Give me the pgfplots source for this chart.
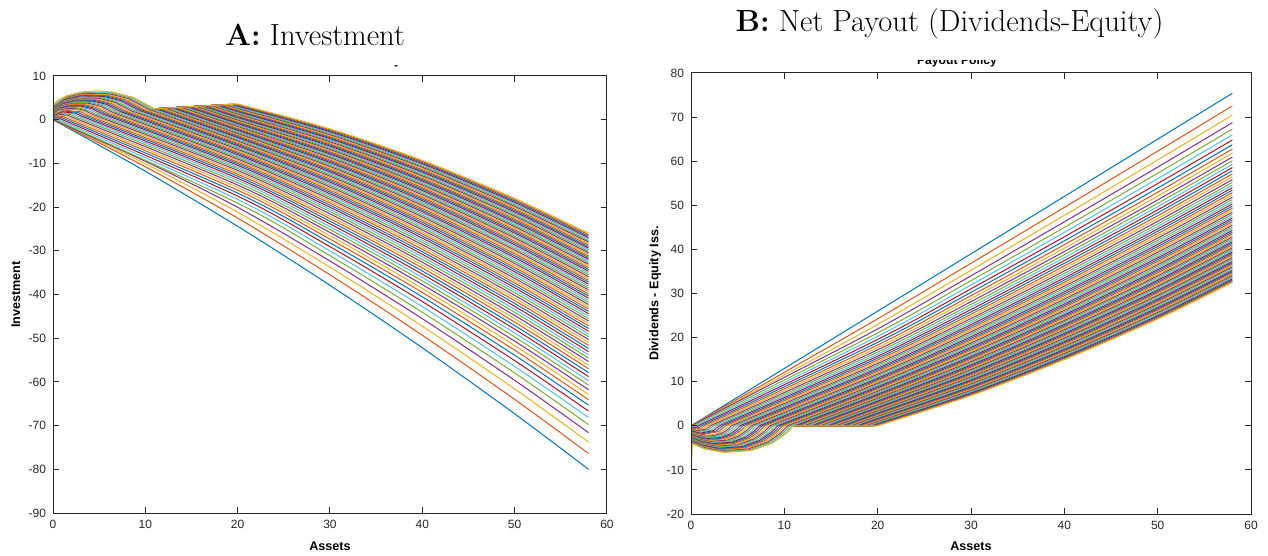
\documentclass[border=0pt]{standalone}
\usepackage{fontspec}
\usepackage{pgfplots}
\pgfplotsset{compat=1.18}
\newfontfamily\arial{Liberation Sans}
\definecolor{c1}{rgb}{0,0.447,0.741}
\definecolor{c2}{rgb}{0.850,0.325,0.098}
\definecolor{c3}{rgb}{0.929,0.694,0.125}
\definecolor{c4}{rgb}{0.494,0.184,0.556}
\definecolor{c5}{rgb}{0.466,0.674,0.188}
\definecolor{c6}{rgb}{0.301,0.745,0.933}
\definecolor{c7}{rgb}{0.635,0.078,0.184}
\tikzset{s/.style={smooth, tension=0.5}}
\pgfplotsset{mstyle/.style={scale only axis, axis on top, xmin=0, xmax=60,
 xtick={0,10,...,60}, xticklabels={0,10,20,30,40,50,60},
 tick align=inside, major tick length=2.8pt,
 axis line style={black!85,line width=0.5pt}, tick style={black!85,line width=0.5pt},
 tick label style={font=\arial\fontsize{6}{7}\selectfont, text=black!85},
 label style={font=\arial\bfseries\fontsize{6.3}{7.5}\selectfont, text=black},
 every axis plot/.append style={line width=0.5pt, mark=none}}}
\begin{document}
\begin{tikzpicture}
\path[use as bounding box] (0,0) rectangle (634pt,-278pt);
\node[font=\fontsize{15.3}{18}\selectfont, anchor=base] at (157.5pt,-22.75pt) {\textbf{A:} Investment};
\node[font=\fontsize{15.3}{18}\selectfont, anchor=base] at (474.75pt,-16pt) {\textbf{B:} Net Payout (Dividends-Equity)};
\begin{scope}
\clip (140pt,-32.6pt) rectangle (215pt,-37pt);
\node[font=\arial\bfseries\fontsize{6.1}{7}\selectfont, anchor=base] at (174.5pt,-32.25pt) {Investment Policy};
\end{scope}
\begin{scope}
\clip (440pt,-30.3pt) rectangle (520pt,-36pt);
\node[font=\arial\bfseries\fontsize{6.1}{7}\selectfont, anchor=base] at (478.5pt,-32.25pt) {Payout Policy};
\end{scope}
% ---------------- Panel A ----------------
\begin{axis}[mstyle, at={(26.5pt,-256.5pt)}, anchor=south west, width=277pt, height=218.5pt,
 ymin=-90, ymax=10, ytick={-90,-80,...,10},
 yticklabels={-90,-80,-70,-60,-50,-40,-30,-20,-10,0,10},
 xlabel={Assets}, ylabel={Investment},
 xlabel style={at={(axis description cs:0.5,-0.0755)}, anchor=center},
 ylabel style={at={(axis description cs:-0.067,0.5)}, anchor=center}]
\addplot[c1,s] coordinates {(0,0)(10,-11.80)(20,-24.40)(30,-37.90)(40,-52.20)(50,-67.30)(58,-80.00)};
\addplot[c2,s] coordinates {(0,0)(10,-10.76)(20,-22.52)(30,-35.50)(40,-49.33)(50,-64.00)(58,-76.38)};
\addplot[c3,s] coordinates {(0,0)(10,-10.08)(20,-21.16)(30,-33.76)(40,-47.24)(50,-61.60)(58,-73.75)};
\addplot[c4,s] coordinates {(0,0)(10,-9.53)(20,-20.05)(30,-32.34)(40,-45.54)(50,-59.64)(58,-71.61)};
\addplot[c5] coordinates {(0,0.06)(0.06,0.12)(0.16,0.10)(0.20,0.06)};
\addplot[c5,s] coordinates {(0.20,0.06)(20,-19.10)(30,-31.12)(40,-44.07)(50,-57.96)(58,-69.77)};
\addplot[c6] coordinates {(0,0.14)(0.15,0.28)(0.37,0.24)(0.47,0.14)};
\addplot[c6,s] coordinates {(0.47,0.14)(20,-18.25)(30,-30.04)(40,-42.78)(50,-56.47)(58,-68.14)};
\addplot[c7] coordinates {(0,0.23)(0.25,0.46)(0.61,0.39)(0.77,0.23)};
\addplot[c7,s] coordinates {(0.77,0.23)(20,-17.49)(30,-29.06)(40,-41.61)(50,-55.13)(58,-66.67)};
\addplot[c1] coordinates {(0,0.33)(0.35,0.65)(0.86,0.55)(1.09,0.32)};
\addplot[c1,s] coordinates {(1.09,0.32)(20,-16.79)(30,-28.17)(40,-40.54)(50,-53.90)(58,-65.32)};
\addplot[c2] coordinates {(0,0.42)(0.45,0.84)(1.12,0.71)(1.41,0.41)};
\addplot[c2,s] coordinates {(1.41,0.41)(20,-16.13)(30,-27.33)(40,-39.54)(50,-52.75)(58,-64.06)};
\addplot[c3] coordinates {(0,0.52)(0.55,1.03)(1.38,0.87)(1.74,0.50)};
\addplot[c3,s] coordinates {(1.74,0.50)(20,-15.53)(30,-26.56)(40,-38.61)(50,-51.68)(58,-62.89)};
\addplot[c4] coordinates {(0,0.62)(0.66,1.23)(1.64,1.04)(2.07,0.59)};
\addplot[c4,s] coordinates {(2.07,0.59)(20,-14.95)(30,-25.82)(40,-37.73)(50,-50.67)(58,-61.78)};
\addplot[c5] coordinates {(0,0.72)(0.76,1.42)(1.90,1.20)(2.40,0.68)};
\addplot[c5,s] coordinates {(2.40,0.68)(20,-14.41)(30,-25.13)(40,-36.90)(50,-49.72)(58,-60.74)};
\addplot[c6] coordinates {(0,0.82)(0.87,1.62)(2.16,1.36)(2.73,0.77)};
\addplot[c6,s] coordinates {(2.73,0.77)(20,-13.89)(30,-24.47)(40,-36.10)(50,-48.80)(58,-59.74)};
\addplot[c7] coordinates {(0,0.92)(0.97,1.80)(2.41,1.51)(3.05,0.85)};
\addplot[c7,s] coordinates {(3.05,0.85)(20,-13.40)(30,-23.84)(40,-35.35)(50,-47.93)(58,-58.79)};
\addplot[c1] coordinates {(0,1.01)(1.08,2.00)(2.67,1.67)(3.38,0.94)};
\addplot[c1,s] coordinates {(3.38,0.94)(20,-12.93)(30,-23.24)(40,-34.63)(50,-47.11)(58,-57.88)};
\addplot[c2] coordinates {(0,1.11)(1.18,2.19)(2.93,1.83)(3.70,1.02)};
\addplot[c2,s] coordinates {(3.70,1.02)(20,-12.48)(30,-22.66)(40,-33.93)(50,-46.31)(58,-57.01)};
\addplot[c3] coordinates {(0,1.20)(0.55,2.01)(1.28,2.37)(2.37,2.36)(3.17,1.98)(3.72,1.40)(4.01,1.10)};
\addplot[c3,s] coordinates {(4.01,1.10)(20,-12.04)(30,-22.10)(40,-33.26)(50,-45.54)(58,-56.16)};
\addplot[c4] coordinates {(0,1.30)(0.59,2.17)(1.38,2.56)(2.56,2.55)(3.42,2.13)(4.02,1.50)(4.33,1.18)};
\addplot[c4,s] coordinates {(4.33,1.18)(20,-11.62)(30,-21.56)(40,-32.62)(50,-44.79)(58,-55.35)};
\addplot[c5] coordinates {(0,1.39)(0.63,2.33)(1.48,2.74)(2.74,2.73)(3.67,2.27)(4.30,1.60)(4.64,1.25)};
\addplot[c5,s] coordinates {(4.64,1.25)(20,-11.21)(30,-21.04)(40,-32.00)(50,-44.08)(58,-54.57)};
\addplot[c6] coordinates {(0,1.49)(0.68,2.48)(1.58,2.92)(2.93,2.91)(3.92,2.42)(4.59,1.70)(4.95,1.32)};
\addplot[c6,s] coordinates {(4.95,1.32)(20,-10.82)(30,-20.53)(40,-31.39)(50,-43.39)(58,-53.80)};
\addplot[c7] coordinates {(0,1.58)(0.72,2.64)(1.67,3.11)(3.11,3.08)(4.16,2.56)(4.88,1.80)(5.26,1.40)};
\addplot[c7,s] coordinates {(5.26,1.40)(20,-10.43)(30,-20.04)(40,-30.80)(50,-42.71)(58,-53.07)};
\addplot[c1] coordinates {(0,1.67)(0.76,2.79)(1.77,3.28)(3.29,3.26)(4.40,2.70)(5.16,1.89)(5.56,1.46)};
\addplot[c1,s] coordinates {(5.56,1.46)(20,-10.06)(30,-19.57)(40,-30.23)(50,-42.05)(58,-52.35)};
\addplot[c2] coordinates {(0,1.76)(0.80,2.94)(1.86,3.46)(3.46,3.43)(4.63,2.84)(5.43,1.98)(5.86,1.53)};
\addplot[c2,s] coordinates {(5.86,1.53)(20,-9.70)(30,-19.10)(40,-29.67)(50,-41.41)(58,-51.64)};
\addplot[c3] coordinates {(0,1.85)(0.84,3.09)(1.96,3.63)(3.64,3.60)(4.87,2.98)(5.71,2.08)(6.16,1.60)};
\addplot[c3,s] coordinates {(6.16,1.60)(20,-9.34)(30,-18.65)(40,-29.13)(50,-40.79)(58,-50.96)};
\addplot[c4] coordinates {(0,1.94)(0.88,3.24)(2.06,3.81)(3.82,3.77)(5.11,3.12)(5.99,2.17)(6.46,1.66)};
\addplot[c4,s] coordinates {(6.46,1.66)(20,-9.00)(30,-18.21)(40,-28.61)(50,-40.19)(58,-50.30)};
\addplot[c5] coordinates {(0,2.03)(0.92,3.38)(2.15,3.98)(3.99,3.93)(5.34,3.25)(6.26,2.25)(6.75,1.72)};
\addplot[c5,s] coordinates {(6.75,1.72)(20,-8.66)(30,-17.78)(40,-28.09)(50,-39.59)(58,-49.65)};
\addplot[c6] coordinates {(0,2.11)(0.96,3.53)(2.24,4.15)(4.16,4.10)(5.57,3.38)(6.53,2.34)(7.04,1.79)};
\addplot[c6,s] coordinates {(7.04,1.79)(20,-8.34)(30,-17.36)(40,-27.59)(50,-39.02)(58,-49.02)};
\addplot[c7] coordinates {(0,2.20)(1.00,3.67)(2.33,4.32)(4.33,4.26)(5.80,3.51)(6.80,2.42)(7.33,1.84)};
\addplot[c7,s] coordinates {(7.33,1.84)(20,-8.01)(30,-16.95)(40,-27.09)(50,-38.45)(58,-48.40)};
\addplot[c1] coordinates {(0,2.28)(1.04,3.81)(2.42,4.48)(4.50,4.42)(6.02,3.64)(7.06,2.50)(7.61,1.90)};
\addplot[c1,s] coordinates {(7.61,1.90)(20,-7.70)(30,-16.55)(40,-26.61)(50,-37.89)(58,-47.79)};
\addplot[c2] coordinates {(0,2.37)(1.08,3.96)(2.51,4.65)(4.67,4.58)(6.25,3.76)(7.33,2.58)(7.90,1.96)};
\addplot[c2,s] coordinates {(7.90,1.96)(20,-7.39)(30,-16.15)(40,-26.14)(50,-37.35)(58,-47.20)};
\addplot[c3] coordinates {(0,2.45)(1.12,4.10)(2.60,4.81)(4.83,4.74)(6.47,3.89)(7.59,2.66)(8.18,2.01)};
\addplot[c3,s] coordinates {(8.18,2.01)(20,-7.09)(30,-15.77)(40,-25.68)(50,-36.82)(58,-46.62)};
\addplot[c4] coordinates {(0,2.54)(1.15,4.24)(2.69,4.98)(5.00,4.90)(6.69,4.01)(7.85,2.74)(8.46,2.07)};
\addplot[c4,s] coordinates {(8.46,2.07)(20,-6.79)(30,-15.39)(40,-25.22)(50,-36.30)(58,-46.05)};
\addplot[c5] coordinates {(0,2.62)(1.19,4.37)(2.78,5.13)(5.16,5.05)(6.90,4.13)(8.10,2.81)(8.73,2.12)};
\addplot[c5,s] coordinates {(8.73,2.12)(20,-6.50)(30,-15.02)(40,-24.78)(50,-35.79)(58,-45.48)};
\addplot[c6] coordinates {(0,2.70)(1.23,4.51)(2.87,5.30)(5.32,5.20)(7.13,4.25)(8.36,2.89)(9.01,2.17)};
\addplot[c6,s] coordinates {(9.01,2.17)(20,-6.22)(30,-14.65)(40,-24.34)(50,-35.29)(58,-44.93)};
\addplot[c7] coordinates {(0,2.78)(1.27,4.65)(2.95,5.45)(5.48,5.35)(7.34,4.37)(8.61,2.96)(9.28,2.22)};
\addplot[c7,s] coordinates {(9.28,2.22)(20,-5.94)(30,-14.29)(40,-23.91)(50,-34.79)(58,-44.39)};
\addplot[c1] coordinates {(0,2.87)(1.30,4.78)(3.04,5.61)(5.64,5.50)(7.55,4.49)(8.86,3.03)(9.55,2.26)};
\addplot[c1,s] coordinates {(9.55,2.26)(20,-5.66)(30,-13.94)(40,-23.49)(50,-34.30)(58,-43.86)};
\addplot[c2] coordinates {(0,2.95)(1.34,4.92)(3.12,5.77)(5.80,5.65)(7.77,4.60)(9.11,3.10)(9.82,2.31)};
\addplot[c2,s] coordinates {(9.82,2.31)(20,-5.39)(30,-13.59)(40,-23.07)(50,-33.83)(58,-43.33)};
\addplot[c3] coordinates {(0,3.02)(1.38,5.05)(3.21,5.92)(5.96,5.80)(7.97,4.71)(9.35,3.17)(10.08,2.35)};
\addplot[c3,s] coordinates {(10.08,2.35)(20,-5.12)(30,-13.25)(40,-22.66)(50,-33.36)(58,-42.82)};
\addplot[c4] coordinates {(0,3.11)(1.41,5.18)(3.29,6.07)(6.12,5.94)(8.19,4.83)(9.60,3.24)(10.35,2.40)};
\addplot[c4,s] coordinates {(10.35,2.40)(20,-4.86)(30,-12.92)(40,-22.26)(50,-32.89)(58,-42.31)};
\addplot[c5] coordinates {(0,3.18)(1.45,5.31)(3.38,6.22)(6.27,6.09)(8.39,4.94)(9.84,3.31)(10.61,2.44)};
\addplot[c5,s] coordinates {(10.61,2.44)(20,-4.60)(30,-12.59)(40,-21.87)(50,-32.44)(58,-41.82)};
\addplot[c6] coordinates {(0,3.26)(1.48,5.44)(3.46,6.37)(6.42,6.23)(8.60,5.05)(10.08,3.37)(10.87,2.48)};
\addplot[c6,s] coordinates {(10.87,2.48)(20,-4.35)(30,-12.26)(40,-21.48)(50,-31.99)(58,-41.33)};
\addplot[c7] coordinates {(11,2.50)(11.13,2.52)};
\addplot[c7,s] coordinates {(11.13,2.52)(20,-4.09)(30,-11.94)(40,-21.09)(50,-31.55)(58,-40.84)};
\addplot[c1] coordinates {(11,2.50)(11.39,2.55)};
\addplot[c1,s] coordinates {(11.39,2.55)(20,-3.85)(30,-11.62)(40,-20.71)(50,-31.11)(58,-40.36)};
\addplot[c2] coordinates {(11,2.50)(11.65,2.58)};
\addplot[c2,s] coordinates {(11.65,2.58)(20,-3.60)(30,-11.31)(40,-20.33)(50,-30.68)(58,-39.89)};
\addplot[c3] coordinates {(11,2.50)(11.90,2.61)};
\addplot[c3,s] coordinates {(11.90,2.61)(20,-3.36)(30,-11.00)(40,-19.97)(50,-30.26)(58,-39.43)};
\addplot[c4] coordinates {(11,2.50)(12.15,2.64)};
\addplot[c4,s] coordinates {(12.15,2.64)(20,-3.13)(30,-10.70)(40,-19.61)(50,-29.84)(58,-38.97)};
\addplot[c5] coordinates {(11,2.50)(12.40,2.67)};
\addplot[c5,s] coordinates {(12.40,2.67)(20,-2.89)(30,-10.40)(40,-19.24)(50,-29.43)(58,-38.52)};
\addplot[c6] coordinates {(11,2.50)(12.66,2.70)};
\addplot[c6,s] coordinates {(12.66,2.70)(20,-2.66)(30,-10.10)(40,-18.89)(50,-29.02)(58,-38.07)};
\addplot[c7] coordinates {(11,2.50)(12.90,2.73)};
\addplot[c7,s] coordinates {(12.90,2.73)(20,-2.43)(30,-9.81)(40,-18.54)(50,-28.62)(58,-37.63)};
\addplot[c1] coordinates {(11,2.50)(13.15,2.76)};
\addplot[c1,s] coordinates {(13.15,2.76)(20,-2.20)(30,-9.52)(40,-18.19)(50,-28.22)(58,-37.19)};
\addplot[c2] coordinates {(11,2.50)(13.39,2.79)};
\addplot[c2,s] coordinates {(13.39,2.79)(20,-1.98)(30,-9.23)(40,-17.85)(50,-27.83)(58,-36.76)};
\addplot[c3] coordinates {(11,2.50)(13.64,2.82)};
\addplot[c3,s] coordinates {(13.64,2.82)(20,-1.76)(30,-8.96)(40,-17.52)(50,-27.44)(58,-36.34)};
\addplot[c4] coordinates {(11,2.50)(13.88,2.85)};
\addplot[c4,s] coordinates {(13.88,2.85)(20,-1.54)(30,-8.68)(40,-17.18)(50,-27.06)(58,-35.92)};
\addplot[c5] coordinates {(11,2.50)(14.12,2.88)(20,-1.33)};
\addplot[c5,s] coordinates {(20,-1.33)(30,-8.40)(40,-16.85)(50,-26.68)(58,-35.50)};
\addplot[c6] coordinates {(11,2.50)(14.36,2.91)(20,-1.12)};
\addplot[c6,s] coordinates {(20,-1.12)(30,-8.13)(40,-16.52)(50,-26.30)(58,-35.09)};
\addplot[c7] coordinates {(11,2.50)(14.60,2.94)(20,-0.90)};
\addplot[c7,s] coordinates {(20,-0.90)(30,-7.86)(40,-16.20)(50,-25.93)(58,-34.68)};
\addplot[c1] coordinates {(11,2.50)(14.84,2.97)(20,-0.70)};
\addplot[c1,s] coordinates {(20,-0.70)(30,-7.59)(40,-15.88)(50,-25.56)(58,-34.28)};
\addplot[c2] coordinates {(11,2.50)(15.08,3.00)(20,-0.49)};
\addplot[c2,s] coordinates {(20,-0.49)(30,-7.33)(40,-15.56)(50,-25.20)(58,-33.88)};
\addplot[c3] coordinates {(11,2.50)(15.31,3.03)(20,-0.28)};
\addplot[c3,s] coordinates {(20,-0.28)(30,-7.07)(40,-15.25)(50,-24.84)(58,-33.49)};
\addplot[c4] coordinates {(11,2.50)(15.54,3.05)(20,-0.08)};
\addplot[c4,s] coordinates {(20,-0.08)(30,-6.81)(40,-14.94)(50,-24.48)(58,-33.10)};
\addplot[c5] coordinates {(11,2.50)(15.78,3.08)(20,0.12)};
\addplot[c5,s] coordinates {(20,0.12)(30,-6.55)(40,-14.63)(50,-24.13)(58,-32.71)};
\addplot[c6] coordinates {(11,2.50)(16.01,3.11)(20,0.32)};
\addplot[c6,s] coordinates {(20,0.32)(30,-6.30)(40,-14.33)(50,-23.78)(58,-32.33)};
\addplot[c7] coordinates {(11,2.50)(16.24,3.14)(20,0.51)};
\addplot[c7,s] coordinates {(20,0.51)(30,-6.05)(40,-14.03)(50,-23.43)(58,-31.95)};
\addplot[c1] coordinates {(11,2.50)(16.47,3.17)(20,0.71)};
\addplot[c1,s] coordinates {(20,0.71)(30,-5.80)(40,-13.73)(50,-23.09)(58,-31.58)};
\addplot[c2] coordinates {(11,2.50)(16.70,3.20)(20,0.90)};
\addplot[c2,s] coordinates {(20,0.90)(30,-5.55)(40,-13.44)(50,-22.75)(58,-31.21)};
\addplot[c3] coordinates {(11,2.50)(16.92,3.22)(20,1.09)};
\addplot[c3,s] coordinates {(20,1.09)(30,-5.31)(40,-13.14)(50,-22.42)(58,-30.84)};
\addplot[c4] coordinates {(11,2.50)(17.15,3.25)(20,1.28)};
\addplot[c4,s] coordinates {(20,1.28)(30,-5.06)(40,-12.85)(50,-22.08)(58,-30.47)};
\addplot[c5] coordinates {(11,2.50)(17.38,3.28)(20,1.47)};
\addplot[c5,s] coordinates {(20,1.47)(30,-4.82)(40,-12.57)(50,-21.75)(58,-30.11)};
\addplot[c6] coordinates {(11,2.50)(17.60,3.31)(20,1.65)};
\addplot[c6,s] coordinates {(20,1.65)(30,-4.59)(40,-12.28)(50,-21.43)(58,-29.75)};
\addplot[c7] coordinates {(11,2.50)(17.82,3.33)(20,1.84)};
\addplot[c7,s] coordinates {(20,1.84)(30,-4.35)(40,-12.00)(50,-21.10)(58,-29.40)};
\addplot[c1] coordinates {(11,2.50)(18.05,3.36)(20,2.02)};
\addplot[c1,s] coordinates {(20,2.02)(30,-4.12)(40,-11.72)(50,-20.78)(58,-29.04)};
\addplot[c2] coordinates {(11,2.50)(18.27,3.39)(20,2.20)};
\addplot[c2,s] coordinates {(20,2.20)(30,-3.89)(40,-11.44)(50,-20.46)(58,-28.69)};
\addplot[c3] coordinates {(11,2.50)(18.48,3.41)(20,2.38)};
\addplot[c3,s] coordinates {(20,2.38)(30,-3.66)(40,-11.17)(50,-20.15)(58,-28.35)};
\addplot[c4] coordinates {(11,2.50)(18.71,3.44)(20,2.56)};
\addplot[c4,s] coordinates {(20,2.56)(30,-3.43)(40,-10.89)(50,-19.83)(58,-28.00)};
\addplot[c5] coordinates {(11,2.50)(18.92,3.47)(20,2.74)};
\addplot[c5,s] coordinates {(20,2.74)(30,-3.20)(40,-10.62)(50,-19.52)(58,-27.66)};
\addplot[c6] coordinates {(11,2.50)(19.14,3.49)(20,2.91)};
\addplot[c6,s] coordinates {(20,2.91)(30,-2.98)(40,-10.36)(50,-19.21)(58,-27.33)};
\addplot[c7] coordinates {(11,2.50)(19.35,3.52)(20,3.09)};
\addplot[c7,s] coordinates {(20,3.09)(30,-2.76)(40,-10.09)(50,-18.91)(58,-26.99)};
\addplot[c1] coordinates {(11,2.50)(19.57,3.55)(20,3.26)};
\addplot[c1,s] coordinates {(20,3.26)(30,-2.54)(40,-9.82)(50,-18.60)(58,-26.66)};
\addplot[c2] coordinates {(11,2.50)(19.78,3.57)(20,3.43)};
\addplot[c2,s] coordinates {(20,3.43)(30,-2.32)(40,-9.56)(50,-18.30)(58,-26.33)};
\addplot[c3] coordinates {(0,3.30)(0.5,4.40)(1.5,5.50)(3,6.30)(4.7,6.60)(6.5,6.30)(8.7,5.10)(10.2,3.40)(11,2.50)(20,3.60)};
\addplot[c3,s] coordinates {(20,3.60)(30,-2.10)(40,-9.30)(50,-18.00)(58,-26.00)};
\end{axis}
% ---------------- Panel B ----------------
\begin{axis}[mstyle, at={(345.5pt,-257pt)}, anchor=south west, width=280pt, height=220.5pt,
 ymin=-20, ymax=80, ytick={-20,-10,...,80},
 yticklabels={-20,-10,0,10,20,30,40,50,60,70,80},
 xlabel={Assets}, ylabel={Dividends - Equity Iss.},
 xlabel style={at={(axis description cs:0.5,-0.0726)}, anchor=center},
 ylabel style={at={(axis description cs:-0.064,0.5)}, anchor=center}]
\addplot[c1,s] coordinates {(0,0)(10,13.00)(20,26.00)(30,39.00)(40,52.00)(50,65.00)(58,75.40)};
\addplot[c2,s] coordinates {(0,0)(10,12.13)(20,24.26)(30,36.85)(40,49.52)(50,62.27)(58,72.53)};
\addplot[c3,s] coordinates {(0,0)(10,11.50)(20,22.99)(30,35.28)(40,47.72)(50,60.28)(58,70.44)};
\addplot[c4,s] coordinates {(0,0)(10,10.98)(20,21.96)(30,34.01)(40,46.25)(50,58.66)(58,68.74)};
\addplot[c5] coordinates {(0,-0.07)(0.06,-0.11)(0.16,-0.07)(0.20,0)};
\addplot[c5,s] coordinates {(0.20,0)(20,21.08)(30,32.91)(40,44.99)(50,57.27)(58,67.27)};
\addplot[c6] coordinates {(0,-0.17)(0.15,-0.26)(0.37,-0.17)(0.47,0)};
\addplot[c6,s] coordinates {(0.47,0)(20,20.29)(30,31.94)(40,43.87)(50,56.04)(58,65.98)};
\addplot[c7] coordinates {(0,-0.28)(0.25,-0.42)(0.61,-0.28)(0.77,0)};
\addplot[c7,s] coordinates {(0.77,0)(20,19.58)(30,31.06)(40,42.86)(50,54.93)(58,64.81)};
\addplot[c1] coordinates {(0,-0.40)(0.35,-0.60)(0.86,-0.39)(1.09,0)};
\addplot[c1,s] coordinates {(1.09,0)(20,18.93)(30,30.26)(40,41.94)(50,53.91)(58,63.74)};
\addplot[c2] coordinates {(0,-0.51)(0.45,-0.78)(1.12,-0.50)(1.41,0)};
\addplot[c2,s] coordinates {(1.41,0)(20,18.32)(30,29.51)(40,41.08)(50,52.96)(58,62.74)};
\addplot[c3] coordinates {(0,-0.63)(0.55,-0.96)(1.38,-0.62)(1.74,0)};
\addplot[c3,s] coordinates {(1.74,0)(20,17.76)(30,28.81)(40,40.27)(50,52.07)(58,61.81)};
\addplot[c4] coordinates {(0,-0.75)(0.66,-1.14)(1.64,-0.74)(2.07,0)};
\addplot[c4,s] coordinates {(2.07,0)(20,17.23)(30,28.15)(40,39.52)(50,51.23)(58,60.93)};
\addplot[c5] coordinates {(0,-0.87)(0.76,-1.32)(1.90,-0.86)(2.40,0)};
\addplot[c5,s] coordinates {(2.40,0)(20,16.73)(30,27.53)(40,38.80)(50,50.45)(58,60.10)};
\addplot[c6] coordinates {(0,-0.99)(0.87,-1.50)(2.16,-0.98)(2.73,0)};
\addplot[c6,s] coordinates {(2.73,0)(20,16.25)(30,26.94)(40,38.12)(50,49.69)(58,59.30)};
\addplot[c7] coordinates {(0,-1.11)(0.97,-1.68)(2.41,-1.09)(3.05,0)};
\addplot[c7,s] coordinates {(3.05,0)(20,15.79)(30,26.37)(40,37.47)(50,48.97)(58,58.55)};
\addplot[c1] coordinates {(0,-1.23)(1.08,-1.86)(2.67,-1.21)(3.38,0)};
\addplot[c1,s] coordinates {(3.38,0)(20,15.35)(30,25.83)(40,36.85)(50,48.29)(58,57.83)};
\addplot[c2] coordinates {(0,-1.35)(1.18,-2.04)(2.93,-1.32)(3.70,0)};
\addplot[c2,s] coordinates {(3.70,0)(20,14.93)(30,25.31)(40,36.25)(50,47.63)(58,57.13)};
\addplot[c3] coordinates {(0,-1.46)(0.55,-1.91)(1.28,-2.21)(2.37,-2.04)(3.17,-1.43)(3.72,-0.64)(4.01,0)};
\addplot[c3,s] coordinates {(4.01,0)(20,14.52)(30,24.81)(40,35.67)(50,46.99)(58,56.46)};
\addplot[c4] coordinates {(0,-1.57)(0.59,-2.07)(1.38,-2.38)(2.56,-2.20)(3.42,-1.55)(4.02,-0.69)(4.33,0)};
\addplot[c4,s] coordinates {(4.33,0)(20,14.13)(30,24.32)(40,35.11)(50,46.37)(58,55.82)};
\addplot[c5] coordinates {(0,-1.69)(0.63,-2.21)(1.48,-2.55)(2.74,-2.36)(3.67,-1.66)(4.30,-0.74)(4.64,0)};
\addplot[c5,s] coordinates {(4.64,0)(20,13.75)(30,23.86)(40,34.57)(50,45.78)(58,55.19)};
\addplot[c6] coordinates {(0,-1.80)(0.68,-2.36)(1.58,-2.72)(2.93,-2.52)(3.92,-1.77)(4.59,-0.79)(4.95,0)};
\addplot[c6,s] coordinates {(4.95,0)(20,13.39)(30,23.40)(40,34.05)(50,45.21)(58,54.59)};
\addplot[c7] coordinates {(0,-1.91)(0.72,-2.51)(1.67,-2.89)(3.11,-2.68)(4.16,-1.88)(4.88,-0.84)(5.26,0)};
\addplot[c7,s] coordinates {(5.26,0)(20,13.03)(30,22.96)(40,33.54)(50,44.65)(58,54.00)};
\addplot[c1] coordinates {(0,-2.02)(0.76,-2.65)(1.77,-3.06)(3.29,-2.83)(4.40,-1.99)(5.16,-0.88)(5.56,0)};
\addplot[c1,s] coordinates {(5.56,0)(20,12.69)(30,22.54)(40,33.05)(50,44.11)(58,53.43)};
\addplot[c2] coordinates {(0,-2.13)(0.80,-2.80)(1.86,-3.22)(3.46,-2.98)(4.63,-2.09)(5.43,-0.93)(5.86,0)};
\addplot[c2,s] coordinates {(5.86,0)(20,12.35)(30,22.12)(40,32.57)(50,43.58)(58,52.87)};
\addplot[c3] coordinates {(0,-2.24)(0.84,-2.94)(1.96,-3.39)(3.64,-3.14)(4.87,-2.20)(5.71,-0.98)(6.16,0)};
\addplot[c3,s] coordinates {(6.16,0)(20,12.02)(30,21.71)(40,32.11)(50,43.06)(58,52.33)};
\addplot[c4] coordinates {(0,-2.35)(0.88,-3.08)(2.06,-3.55)(3.82,-3.29)(5.11,-2.31)(5.99,-1.03)(6.46,0)};
\addplot[c4,s] coordinates {(6.46,0)(20,11.70)(30,21.32)(40,31.65)(50,42.56)(58,51.81)};
\addplot[c5] coordinates {(0,-2.45)(0.92,-3.22)(2.15,-3.71)(3.99,-3.44)(5.34,-2.41)(6.26,-1.07)(6.75,0)};
\addplot[c5,s] coordinates {(6.75,0)(20,11.39)(30,20.93)(40,31.21)(50,42.07)(58,51.29)};
\addplot[c6] coordinates {(0,-2.56)(0.96,-3.36)(2.24,-3.87)(4.16,-3.58)(5.57,-2.52)(6.53,-1.12)(7.04,0)};
\addplot[c6,s] coordinates {(7.04,0)(20,11.08)(30,20.56)(40,30.77)(50,41.59)(58,50.79)};
\addplot[c7] coordinates {(0,-2.67)(1.00,-3.50)(2.33,-4.03)(4.33,-3.73)(5.80,-2.62)(6.80,-1.17)(7.33,0)};
\addplot[c7,s] coordinates {(7.33,0)(20,10.78)(30,20.19)(40,30.35)(50,41.12)(58,50.30)};
\addplot[c1] coordinates {(0,-2.77)(1.04,-3.63)(2.42,-4.19)(4.50,-3.87)(6.02,-2.72)(7.06,-1.21)(7.61,0)};
\addplot[c1,s] coordinates {(7.61,0)(20,10.49)(30,19.82)(40,29.93)(50,40.66)(58,49.81)};
\addplot[c2] coordinates {(0,-2.87)(1.08,-3.77)(2.51,-4.35)(4.67,-4.02)(6.25,-2.82)(7.33,-1.26)(7.90,0)};
\addplot[c2,s] coordinates {(7.90,0)(20,10.21)(30,19.47)(40,29.52)(50,40.21)(58,49.34)};
\addplot[c3] coordinates {(0,-2.97)(1.12,-3.90)(2.60,-4.50)(4.83,-4.16)(6.47,-2.92)(7.59,-1.30)(8.18,0)};
\addplot[c3,s] coordinates {(8.18,0)(20,9.93)(30,19.13)(40,29.13)(50,39.78)(58,48.88)};
\addplot[c4] coordinates {(0,-3.08)(1.15,-4.04)(2.69,-4.65)(5.00,-4.31)(6.69,-3.02)(7.85,-1.35)(8.46,0)};
\addplot[c4,s] coordinates {(8.46,0)(20,9.65)(30,18.78)(40,28.73)(50,39.35)(58,48.42)};
\addplot[c5] coordinates {(0,-3.17)(1.19,-4.17)(2.78,-4.80)(5.16,-4.44)(6.90,-3.12)(8.10,-1.39)(8.73,0)};
\addplot[c5,s] coordinates {(8.73,0)(20,9.38)(30,18.45)(40,28.35)(50,38.92)(58,47.98)};
\addplot[c6] coordinates {(0,-3.28)(1.23,-4.30)(2.87,-4.96)(5.32,-4.59)(7.13,-3.22)(8.36,-1.43)(9.01,0)};
\addplot[c6,s] coordinates {(9.01,0)(20,9.12)(30,18.12)(40,27.97)(50,38.50)(58,47.54)};
\addplot[c7] coordinates {(0,-3.37)(1.27,-4.43)(2.95,-5.10)(5.48,-4.72)(7.34,-3.32)(8.61,-1.48)(9.28,0)};
\addplot[c7,s] coordinates {(9.28,0)(20,8.86)(30,17.80)(40,27.60)(50,38.10)(58,47.11)};
\addplot[c1] coordinates {(0,-3.47)(1.30,-4.56)(3.04,-5.25)(5.64,-4.86)(7.55,-3.41)(8.86,-1.52)(9.55,0)};
\addplot[c1,s] coordinates {(9.55,0)(20,8.60)(30,17.48)(40,27.24)(50,37.69)(58,46.69)};
\addplot[c2] coordinates {(0,-3.57)(1.34,-4.69)(3.12,-5.40)(5.80,-5.00)(7.77,-3.51)(9.11,-1.56)(9.82,0)};
\addplot[c2,s] coordinates {(9.82,0)(20,8.35)(30,17.17)(40,26.88)(50,37.30)(58,46.27)};
\addplot[c3] coordinates {(0,-3.67)(1.38,-4.81)(3.21,-5.54)(5.96,-5.13)(7.97,-3.60)(9.35,-1.60)(10.08,0)};
\addplot[c3,s] coordinates {(10.08,0)(20,8.10)(30,16.87)(40,26.53)(50,36.91)(58,45.86)};
\addplot[c4] coordinates {(0,-3.76)(1.41,-4.94)(3.29,-5.69)(6.12,-5.27)(8.19,-3.70)(9.60,-1.65)(10.35,0)};
\addplot[c4,s] coordinates {(10.35,0)(20,7.85)(30,16.56)(40,26.18)(50,36.53)(58,45.46)};
\addplot[c5] coordinates {(0,-3.86)(1.45,-5.06)(3.38,-5.84)(6.27,-5.40)(8.39,-3.79)(9.84,-1.69)(10.61,0)};
\addplot[c5,s] coordinates {(10.61,0)(20,7.62)(30,16.27)(40,25.84)(50,36.15)(58,45.07)};
\addplot[c6] coordinates {(0,-3.95)(1.48,-5.19)(3.46,-5.98)(6.42,-5.53)(8.60,-3.88)(10.08,-1.73)(10.87,0)};
\addplot[c6,s] coordinates {(10.87,0)(20,7.38)(30,15.97)(40,25.50)(50,35.78)(58,44.68)};
\addplot[c7] coordinates {(11,0)(11.13,0)};
\addplot[c7,s] coordinates {(11.13,0)(20,7.15)(30,15.69)(40,25.17)(50,35.41)(58,44.29)};
\addplot[c1] coordinates {(11,0)(11.39,0)};
\addplot[c1,s] coordinates {(11.39,0)(20,6.92)(30,15.40)(40,24.84)(50,35.05)(58,43.91)};
\addplot[c2] coordinates {(11,0)(11.65,0)};
\addplot[c2,s] coordinates {(11.65,0)(20,6.69)(30,15.12)(40,24.52)(50,34.69)(58,43.53)};
\addplot[c3] coordinates {(11,0)(11.90,0)};
\addplot[c3,s] coordinates {(11.90,0)(20,6.47)(30,14.85)(40,24.20)(50,34.35)(58,43.17)};
\addplot[c4] coordinates {(11,0)(12.15,0)};
\addplot[c4,s] coordinates {(12.15,0)(20,6.25)(30,14.57)(40,23.89)(50,34.00)(58,42.81)};
\addplot[c5] coordinates {(11,0)(12.40,0)};
\addplot[c5,s] coordinates {(12.40,0)(20,6.03)(30,14.30)(40,23.58)(50,33.66)(58,42.44)};
\addplot[c6] coordinates {(11,0)(12.66,0)};
\addplot[c6,s] coordinates {(12.66,0)(20,5.81)(30,14.04)(40,23.27)(50,33.32)(58,42.09)};
\addplot[c7] coordinates {(11,0)(12.90,0)};
\addplot[c7,s] coordinates {(12.90,0)(20,5.60)(30,13.78)(40,22.97)(50,32.99)(58,41.74)};
\addplot[c1] coordinates {(11,0)(13.15,0)};
\addplot[c1,s] coordinates {(13.15,0)(20,5.39)(30,13.51)(40,22.67)(50,32.66)(58,41.39)};
\addplot[c2] coordinates {(11,0)(13.39,0)};
\addplot[c2,s] coordinates {(13.39,0)(20,5.18)(30,13.26)(40,22.37)(50,32.33)(58,41.05)};
\addplot[c3] coordinates {(11,0)(13.64,0)};
\addplot[c3,s] coordinates {(13.64,0)(20,4.98)(30,13.01)(40,22.09)(50,32.01)(58,40.72)};
\addplot[c4] coordinates {(11,0)(13.88,0)};
\addplot[c4,s] coordinates {(13.88,0)(20,4.78)(30,12.76)(40,21.80)(50,31.70)(58,40.38)};
\addplot[c5] coordinates {(11,0)(14.12,0)(20,4.58)};
\addplot[c5,s] coordinates {(20,4.58)(30,12.51)(40,21.51)(50,31.38)(58,40.05)};
\addplot[c6] coordinates {(11,0)(14.36,0)(20,4.38)};
\addplot[c6,s] coordinates {(20,4.38)(30,12.26)(40,21.23)(50,31.07)(58,39.72)};
\addplot[c7] coordinates {(11,0)(14.60,0)(20,4.18)};
\addplot[c7,s] coordinates {(20,4.18)(30,12.02)(40,20.95)(50,30.76)(58,39.40)};
\addplot[c1] coordinates {(11,0)(14.84,0)(20,3.99)};
\addplot[c1,s] coordinates {(20,3.99)(30,11.78)(40,20.68)(50,30.46)(58,39.08)};
\addplot[c2] coordinates {(11,0)(15.08,0)(20,3.80)};
\addplot[c2,s] coordinates {(20,3.80)(30,11.54)(40,20.40)(50,30.16)(58,38.76)};
\addplot[c3] coordinates {(11,0)(15.31,0)(20,3.61)};
\addplot[c3,s] coordinates {(20,3.61)(30,11.31)(40,20.13)(50,29.86)(58,38.45)};
\addplot[c4] coordinates {(11,0)(15.54,0)(20,3.42)};
\addplot[c4,s] coordinates {(20,3.42)(30,11.08)(40,19.87)(50,29.57)(58,38.14)};
\addplot[c5] coordinates {(11,0)(15.78,0)(20,3.23)};
\addplot[c5,s] coordinates {(20,3.23)(30,10.85)(40,19.60)(50,29.27)(58,37.83)};
\addplot[c6] coordinates {(11,0)(16.01,0)(20,3.05)};
\addplot[c6,s] coordinates {(20,3.05)(30,10.62)(40,19.34)(50,28.98)(58,37.53)};
\addplot[c7] coordinates {(11,0)(16.24,0)(20,2.87)};
\addplot[c7,s] coordinates {(20,2.87)(30,10.39)(40,19.08)(50,28.70)(58,37.23)};
\addplot[c1] coordinates {(11,0)(16.47,0)(20,2.69)};
\addplot[c1,s] coordinates {(20,2.69)(30,10.17)(40,18.82)(50,28.41)(58,36.93)};
\addplot[c2] coordinates {(11,0)(16.70,0)(20,2.51)};
\addplot[c2,s] coordinates {(20,2.51)(30,9.95)(40,18.57)(50,28.13)(58,36.64)};
\addplot[c3] coordinates {(11,0)(16.92,0)(20,2.33)};
\addplot[c3,s] coordinates {(20,2.33)(30,9.73)(40,18.32)(50,27.86)(58,36.34)};
\addplot[c4] coordinates {(11,0)(17.15,0)(20,2.15)};
\addplot[c4,s] coordinates {(20,2.15)(30,9.51)(40,18.06)(50,27.58)(58,36.05)};
\addplot[c5] coordinates {(11,0)(17.38,0)(20,1.98)};
\addplot[c5,s] coordinates {(20,1.98)(30,9.30)(40,17.82)(50,27.31)(58,35.77)};
\addplot[c6] coordinates {(11,0)(17.60,0)(20,1.81)};
\addplot[c6,s] coordinates {(20,1.81)(30,9.08)(40,17.57)(50,27.04)(58,35.48)};
\addplot[c7] coordinates {(11,0)(17.82,0)(20,1.64)};
\addplot[c7,s] coordinates {(20,1.64)(30,8.87)(40,17.33)(50,26.77)(58,35.20)};
\addplot[c1] coordinates {(11,0)(18.05,0)(20,1.46)};
\addplot[c1,s] coordinates {(20,1.46)(30,8.66)(40,17.08)(50,26.50)(58,34.92)};
\addplot[c2] coordinates {(11,0)(18.27,0)(20,1.30)};
\addplot[c2,s] coordinates {(20,1.30)(30,8.45)(40,16.85)(50,26.24)(58,34.64)};
\addplot[c3] coordinates {(11,0)(18.48,0)(20,1.13)};
\addplot[c3,s] coordinates {(20,1.13)(30,8.25)(40,16.61)(50,25.98)(58,34.37)};
\addplot[c4] coordinates {(11,0)(18.71,0)(20,0.96)};
\addplot[c4,s] coordinates {(20,0.96)(30,8.04)(40,16.37)(50,25.71)(58,34.09)};
\addplot[c5] coordinates {(11,0)(18.92,0)(20,0.80)};
\addplot[c5,s] coordinates {(20,0.80)(30,7.84)(40,16.14)(50,25.46)(58,33.82)};
\addplot[c6] coordinates {(11,0)(19.14,0)(20,0.64)};
\addplot[c6,s] coordinates {(20,0.64)(30,7.64)(40,15.91)(50,25.20)(58,33.56)};
\addplot[c7] coordinates {(11,0)(19.35,0)(20,0.48)};
\addplot[c7,s] coordinates {(20,0.48)(30,7.44)(40,15.68)(50,24.95)(58,33.29)};
\addplot[c1] coordinates {(11,0)(19.57,0)(20,0.32)};
\addplot[c1,s] coordinates {(20,0.32)(30,7.24)(40,15.45)(50,24.70)(58,33.02)};
\addplot[c2] coordinates {(11,0)(19.78,0)(20,0.16)};
\addplot[c2,s] coordinates {(20,0.16)(30,7.05)(40,15.23)(50,24.45)(58,32.76)};
\addplot[c3] coordinates {(0,-10.5)(0.15,-4.2)(0.43,-4.3)(1.5,-5.25)(3.5,-6.05)(6.5,-5.6)(8.7,-3.93)(10.2,-1.75)(11,0)(20,0)};
\addplot[c3,s] coordinates {(20,0)(30,6.85)(40,15.00)(50,24.20)(58,32.50)};
\end{axis}
\end{tikzpicture}
\end{document}
